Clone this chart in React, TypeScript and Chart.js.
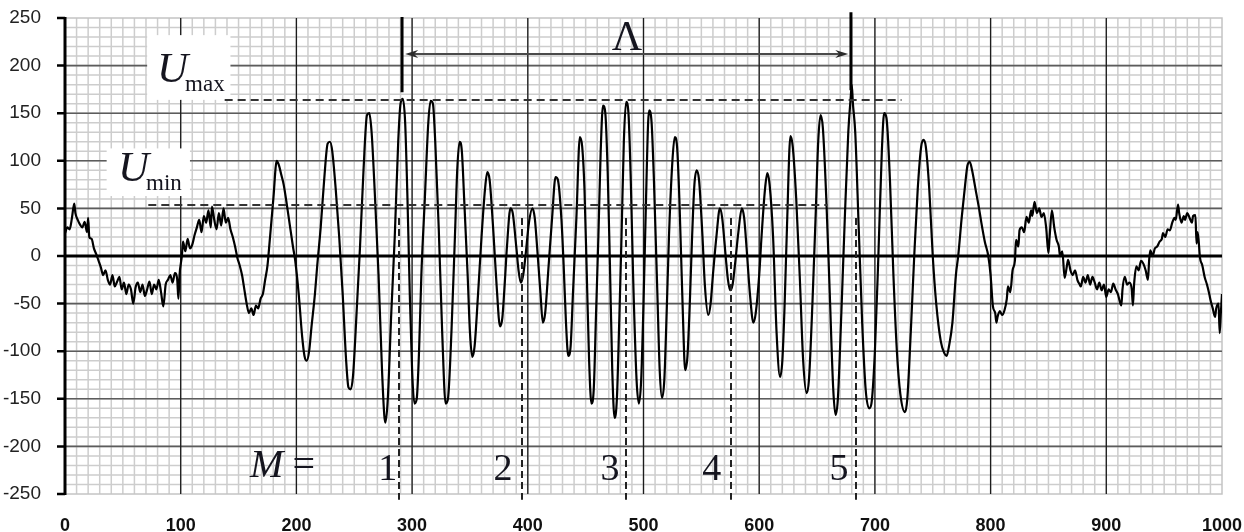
import React, { useEffect, useRef } from 'react';
import { Chart, registerables } from 'chart.js';

Chart.register(...registerables);

// ---------- axis ranges & tick labels ----------
const X_MIN = 0;
const X_MAX = 1000;
const Y_MIN = -250;
const Y_MAX = 250;
const X_MINOR_STEP = 10;
const Y_MINOR_STEP = 10;
const xTickLabels = [0, 100, 200, 300, 400, 500, 600, 700, 800, 900, 1000];
const yTickLabels = [-250, -200, -150, -100, -50, 0, 50, 100, 150, 200, 250];

// ---------- signal values: [x, U] ----------
const leftNoise: [number, number][] = [
  [0, 24], [2, 30], [4, 28], [6, 40], [8, 55], [9, 45], [11, 38], [13, 33], [15, 30], [17, 36],
  [19, 25], [20, 40], [21, 20], [23, 18], [25, 8], [27, 2], [29, -5], [31, -12], [33, -20], [35, -15],
  [37, -25], [39, -30], [41, -20], [43, -32], [45, -27], [47, -22], [49, -35], [51, -28], [53, -40], [55, -30],
  [57, -35], [59, -50], [61, -33], [63, -28], [65, -38], [67, -30], [69, -42], [71, -35], [73, -27], [75, -40],
  [77, -30], [79, -35], [81, -25], [83, -38], [85, -53], [87, -30], [89, -25], [91, -20], [93, -28], [95, -18],
  [97, -25], [98, -45], [99, -20], [101, 0], [102, 15], [104, 5], [106, 18], [108, 8], [110, 12], [112, 22],
  [114, 30], [116, 38], [118, 25], [120, 42], [122, 35], [124, 48], [126, 30], [127, 52], [129, 38], [131, 28],
  [133, 45], [135, 32], [137, 50], [139, 35], [141, 40], [143, 28], [145, 20], [147, 10], [149, -2], [151, -10],
  [153, -20], [155, -35], [157, -50], [159, -60], [161, -55], [163, -62], [165, -52], [167, -55], [169, -45], [171, -40],
  [173, -25], [175, -10],
];

const burst: [number, number][] = [
  [177, 17], [180, 59], [183, 100], [185, 95], [187, 85], [189, 75], [191, 60], [194, 35], [197, 10], [199, -5],
  [202, -40], [205, -85], [207, -105], [209, -110], [211, -100], [213, -75], [216, -40], [218, -10], [221, 30], [224, 80],
  [227, 118], [229, 120], [231, 110], [234, 70], [237, 20], [240, -40], [243, -110], [245, -138], [247, -140], [249, -125],
  [252, -60], [255, 10], [258, 90], [261, 148], [263, 150], [265, 130], [268, 60], [271, -20], [274, -120], [276, -168],
  [277, -175], [279, -150], [282, -60], [285, 20], [288, 120], [290, 160], [292, 165], [294, 140], [296, 60], [298, -40],
  [300, -120], [302, -155], [304, -150], [306, -100], [308, -20], [311, 60], [314, 140], [316, 163], [318, 160], [320, 120],
  [323, 30], [326, -80], [329, -155], [331, -150], [334, -80], [337, 20], [339, 90], [341, 120], [343, 110], [345, 60],
  [348, -20], [350, -80], [352, -106], [354, -95], [357, -40], [360, 20], [363, 70], [365, 88], [367, 80], [370, 30],
  [373, -30], [376, -74], [378, -65], [380, -30], [382, 10], [385, 50], [387, 45], [390, 10], [392, -15], [394, -28],
  [396, -20], [398, 0], [401, 35], [404, 50], [406, 40], [408, 10], [411, -40], [413, -70], [415, -60], [418, -10],
  [421, 40], [424, 83], [426, 80], [429, 40], [431, -10], [433, -70], [435, -105], [437, -95], [439, -40], [442, 40],
  [445, 125], [447, 115], [449, 70], [451, -20], [453, -110], [455, -155], [457, -140], [459, -60], [461, 20], [463, 110],
  [465, 158], [467, 150], [469, 90], [471, -10], [473, -120], [475, -170], [477, -150], [479, -70], [481, 20], [483, 120],
  [485, 162], [487, 150], [489, 80], [491, -20], [494, -130], [496, -155], [498, -130], [500, -50], [502, 50], [504, 140],
  [505, 153], [507, 140], [509, 80], [512, -40], [514, -120], [516, -149], [518, -130], [520, -60], [522, 20], [525, 100],
  [527, 125], [529, 115], [531, 60], [534, -60], [536, -120], [538, -105], [540, -50], [542, 20], [544, 75], [546, 90],
  [548, 80], [551, 20], [553, -30], [556, -62], [558, -50], [560, -20], [563, 20], [566, 50], [568, 40], [571, 0],
  [573, -25], [575, -36], [577, -30], [579, -10], [582, 25], [585, 50], [587, 40], [589, 10], [592, -40], [595, -70],
  [597, -60], [600, -20], [602, 20], [605, 70], [607, 87], [609, 75], [612, 20], [615, -80], [618, -127], [620, -110],
  [622, -50], [624, 30], [627, 126], [629, 115], [632, 60], [635, -20], [638, -110], [641, -144], [643, -130], [646, -50],
  [649, 50], [651, 120], [653, 148], [655, 135], [658, 60], [661, -40], [664, -140], [666, -167], [668, -150], [671, -60],
  [674, 40], [677, 130], [679, 165], [680, 180], [681, 160], [683, 130], [686, 30], [689, -70], [692, -140], [695, -160],
  [697, -155], [700, -100], [703, 0], [706, 110], [708, 150], [710, 145], [713, 80], [716, -20], [719, -100], [722, -145],
  [726, -164], [728, -150], [731, -80], [734, 0], [737, 70], [740, 115], [742, 122], [744, 115], [747, 70], [750, 0],
  [753, -50], [757, -90], [760, -102], [762, -105], [764, -95], [767, -70], [770, -20], [772, 0], [775, 40], [778, 75],
  [780, 95], [782, 99], [784, 90], [787, 70], [790, 50], [792, 35], [795, 15], [798, 0], [800, -20],
];

const rightNoise: [number, number][] = [
  [802, -53], [804, -60], [805, -70], [806, -64], [808, -58], [810, -62], [812, -57], [814, -45], [815, -32], [817, -38],
  [819, -15], [821, -5], [822, 17], [824, 10], [825, 27], [827, 30], [829, 25], [831, 41], [833, 35], [835, 48],
  [836, 42], [838, 57], [840, 45], [842, 50], [844, 41], [846, 45], [848, 30], [850, 3], [851, 20], [853, 48],
  [855, 30], [857, 17], [859, 10], [860, 0], [862, 5], [864, -23], [866, -10], [867, -4], [869, -15], [871, -20],
  [873, -15], [875, -25], [877, -30], [878, -32], [880, -22], [882, -28], [884, -20], [886, -30], [888, -22], [890, -28],
  [892, -35], [894, -28], [896, -36], [898, -30], [900, -43], [902, -35], [904, -38], [906, -29], [908, -35], [910, -40],
  [913, -52], [914, -35], [916, -22], [918, -30], [920, -28], [922, -35], [923, -52], [924, -30], [926, -11], [928, -15],
  [930, -5], [932, -8], [934, -15], [936, -25], [937, -5], [938, 6], [940, 0], [942, 8], [944, 10], [946, 15],
  [948, 18], [949, 24], [951, 20], [953, 28], [955, 27], [957, 35], [959, 40], [960, 38], [962, 54], [963, 45],
  [965, 35], [967, 42], [968, 38], [970, 45], [972, 40], [974, 35], [975, 42], [977, 43], [978, 13], [979, 25],
  [981, -2], [983, -10], [985, -22], [987, -30], [989, -40], [990, -46], [992, -55], [994, -64], [995, -55], [997, -50],
  [998, -81], [999, -60], [1000, -40],
];

// ---------- annotation values (data units) ----------
const uMaxLevel = 164;
const uMaxSpan = [138, 723];
const uMinLevel = 53.5;
const uMinSpan = [72, 659];
const lambdaBars = [291.3, 679.3];
const lambdaBarTop = [251, 256];
const lambdaBarBottom = [172, 174];
const lambdaArrowLevel = 212;
const lambdaArrowSpan = [294, 677];
const lambdaLabelPos = [485.7, 216];
const mMarkers = [288.7, 395, 484.9, 575.6, 683.7];
const mMarkerSpan = [40, -256];
const mLabels = ['1', '2', '3', '4', '5'];
const mLabelX = [279, 378.6, 471, 559, 669];
const mLabelY = -235;
const mTitlePos = [160, -232];
const uMaxBox = [71, 232, 143, 164];
const uMinBox = [36, 113, 108, 63];
const uMaxTextPos = [79.5, 183];
const uMinTextPos = [45.8, 79];

const SERIF = '"Liberation Serif", "DejaVu Serif", serif';
const SANS = '"Liberation Sans", Arial, sans-serif';

const MINOR = '#cdcdcd';
const FRAME = '#c4c4c4';

const gridPlugin = {
  id: 'paperGrid',
  beforeDatasetsDraw(chart: any) {
    const { ctx, chartArea: a } = chart;
    const xs = chart.scales.x;
    const ys = chart.scales.y;
    const X = (v: number) => xs.getPixelForValue(v);
    const Y = (v: number) => ys.getPixelForValue(v);
    ctx.save();
    ctx.strokeStyle = MINOR;
    ctx.lineWidth = 1.5;
    ctx.beginPath();
    for (let v = X_MIN + X_MINOR_STEP; v < X_MAX; v += X_MINOR_STEP) {
      ctx.moveTo(X(v), a.top);
      ctx.lineTo(X(v), a.bottom);
    }
    for (let v = Y_MIN + Y_MINOR_STEP; v < Y_MAX; v += Y_MINOR_STEP) {
      ctx.moveTo(a.left, Y(v));
      ctx.lineTo(a.right, Y(v));
    }
    ctx.stroke();
    ctx.strokeStyle = FRAME;
    ctx.lineWidth = 1.5;
    ctx.strokeRect(a.left, a.top, a.right - a.left, a.bottom - a.top);
    ctx.strokeStyle = '#5c5c5c';
    ctx.lineWidth = 1.6;
    ctx.beginPath();
    for (const v of yTickLabels) {
      if (v === Y_MIN || v === Y_MAX || v === 0) continue;
      ctx.moveTo(a.left, Y(v));
      ctx.lineTo(a.right, Y(v));
    }
    ctx.stroke();
    ctx.strokeStyle = '#1c1c1c';
    ctx.lineWidth = 1.3;
    ctx.beginPath();
    for (const v of xTickLabels) {
      if (v === X_MIN || v === X_MAX) continue;
      ctx.moveTo(X(v), a.top);
      ctx.lineTo(X(v), a.bottom);
    }
    ctx.stroke();
    ctx.strokeStyle = '#000';
    ctx.lineWidth = 3;
    ctx.beginPath();
    ctx.moveTo(a.left, Y(0));
    ctx.lineTo(a.right, Y(0));
    ctx.stroke();
    ctx.beginPath();
    ctx.moveTo(a.left, a.top - 1);
    ctx.lineTo(a.left, a.bottom + 1);
    ctx.stroke();
    ctx.lineWidth = 2.5;
    ctx.beginPath();
    for (const v of yTickLabels) {
      ctx.moveTo(a.left - 8, Y(v));
      ctx.lineTo(a.left, Y(v));
    }
    ctx.stroke();
    ctx.restore();
  },
};

const annotationPlugin = {
  id: 'waveAnnotations',
  afterDatasetsDraw(chart: any) {
    const { ctx } = chart;
    const xs = chart.scales.x;
    const ys = chart.scales.y;
    const X = (v: number) => xs.getPixelForValue(v);
    const Y = (v: number) => ys.getPixelForValue(v);
    ctx.save();

    ctx.fillStyle = '#ffffff';
    for (const b of [uMaxBox, uMinBox]) {
      ctx.fillRect(X(b[0]), Y(b[1]), X(b[2]) - X(b[0]), Y(b[3]) - Y(b[1]));
    }

    ctx.strokeStyle = '#333';
    ctx.lineWidth = 2;
    ctx.setLineDash([8, 5]);
    ctx.beginPath();
    for (const [lvl, span] of [[uMaxLevel, uMaxSpan], [uMinLevel, uMinSpan]] as [number, number[]][]) {
      const yy = Math.round(Y(lvl));
      ctx.moveTo(X(span[0]), yy);
      ctx.lineTo(X(span[1]), yy);
    }
    ctx.stroke();

    ctx.strokeStyle = '#222';
    ctx.setLineDash([7, 4]);
    ctx.beginPath();
    for (const m of mMarkers) {
      const xx = Math.round(X(m));
      ctx.moveTo(xx, Y(mMarkerSpan[0]));
      ctx.lineTo(xx, Y(mMarkerSpan[1]));
    }
    ctx.stroke();
    ctx.setLineDash([]);

    ctx.strokeStyle = '#000';
    ctx.lineWidth = 3;
    ctx.beginPath();
    lambdaBars.forEach((b, i) => {
      ctx.moveTo(X(b), Y(lambdaBarTop[i]));
      ctx.lineTo(X(b), Y(lambdaBarBottom[i]));
    });
    ctx.stroke();

    const ay = Math.round(Y(lambdaArrowLevel));
    const ax0 = X(lambdaArrowSpan[0]);
    const ax1 = X(lambdaArrowSpan[1]);
    ctx.strokeStyle = '#4a4a4a';
    ctx.fillStyle = '#2a2a2a';
    ctx.lineWidth = 2;
    ctx.beginPath();
    ctx.moveTo(ax0 + 4, ay);
    ctx.lineTo(ax1 - 4, ay);
    ctx.stroke();
    ctx.beginPath();
    ctx.moveTo(ax0, ay);
    ctx.lineTo(ax0 + 13, ay - 4);
    ctx.lineTo(ax0 + 9, ay);
    ctx.lineTo(ax0 + 13, ay + 4);
    ctx.closePath();
    ctx.fill();
    ctx.beginPath();
    ctx.moveTo(ax1, ay);
    ctx.lineTo(ax1 - 13, ay - 4);
    ctx.lineTo(ax1 - 9, ay);
    ctx.lineTo(ax1 - 13, ay + 4);
    ctx.closePath();
    ctx.fill();

    ctx.fillStyle = '#15151f';
    ctx.textBaseline = 'alphabetic';
    ctx.textAlign = 'center';
    ctx.font = `42px ${SERIF}`;
    ctx.fillText('Λ', X(lambdaLabelPos[0]), Y(lambdaLabelPos[1]));

    ctx.textAlign = 'left';
    const drawU = (pos: number[], sub: string) => {
      const x0 = X(pos[0]);
      const y0 = Y(pos[1]);
      ctx.font = `italic 43px ${SERIF}`;
      ctx.fillText('U', x0, y0);
      const w = ctx.measureText('U').width;
      ctx.font = `23px ${SERIF}`;
      ctx.fillText(sub, x0 + w - 3, y0 + 9);
    };
    drawU(uMaxTextPos, 'max');
    drawU(uMinTextPos, 'min');

    ctx.font = `italic 40px ${SERIF}`;
    const mx = X(mTitlePos[0]);
    const my = Y(mTitlePos[1]);
    ctx.fillText('M', mx, my);
    const mw = ctx.measureText('M').width;
    ctx.font = `40px ${SERIF}`;
    ctx.fillText('=', mx + mw + 9, my);

    ctx.textAlign = 'center';
    ctx.font = `38px ${SERIF}`;
    mLabels.forEach((t, i) => ctx.fillText(t, X(mLabelX[i]), Y(mLabelY)));

    ctx.restore();
  },
};

const zeroPaddings = (s: any) => {
  s.paddingTop = 0;
  s.paddingBottom = 0;
  s.paddingLeft = 0;
  s.paddingRight = 0;
};

export default function App() {
  const canvasRef = useRef<HTMLCanvasElement | null>(null);

  useEffect(() => {
    document.body.style.margin = '0';
    const canvas = canvasRef.current;
    if (!canvas) return;
    const points = [...leftNoise, ...burst, ...rightNoise].map(([x, y]) => ({ x, y }));

    const chart = new Chart(canvas, {
      type: 'line',
      data: {
        datasets: [
          {
            data: points,
            borderColor: '#000',
            borderWidth: 2.2,
            pointRadius: 0,
            cubicInterpolationMode: 'monotone',
            fill: false,
          },
        ],
      },
      options: {
        responsive: false,
        maintainAspectRatio: false,
        animation: false,
        events: [],
        layout: { padding: { top: 18, right: 22, left: 0, bottom: 0 } },
        plugins: { legend: { display: false }, tooltip: { enabled: false } },
        scales: {
          x: {
            type: 'linear',
            min: X_MIN,
            max: X_MAX,
            afterFit: (s: any) => {
              s.height = 38;
              zeroPaddings(s);
            },
            afterBuildTicks: (s: any) => {
              s.ticks = xTickLabels.map((v) => ({ value: v }));
            },
            ticks: {
              autoSkip: false,
              maxRotation: 0,
              padding: 13,
              color: '#111',
              font: { family: SANS, size: 18, weight: 'bold' },
              callback: (v: any) => String(v),
            },
            grid: { display: false },
            border: { display: false },
          },
          y: {
            type: 'linear',
            min: Y_MIN,
            max: Y_MAX,
            afterFit: (s: any) => {
              s.width = 65;
              zeroPaddings(s);
            },
            afterBuildTicks: (s: any) => {
              s.ticks = yTickLabels.map((v) => ({ value: v }));
            },
            ticks: {
              autoSkip: false,
              padding: 16,
              color: '#222',
              font: { family: SANS, size: 19 },
              callback: (v: any) => String(v),
            },
            grid: { display: false },
            border: { display: false },
          },
        },
      },
      plugins: [gridPlugin, annotationPlugin],
    } as any);

    return () => chart.destroy();
  }, []);

  return (
    <div style={{ width: 1244, height: 532, background: '#fff' }}>
      <canvas ref={canvasRef} width={1244} height={532} style={{ display: 'block' }} />
    </div>
  );
}
